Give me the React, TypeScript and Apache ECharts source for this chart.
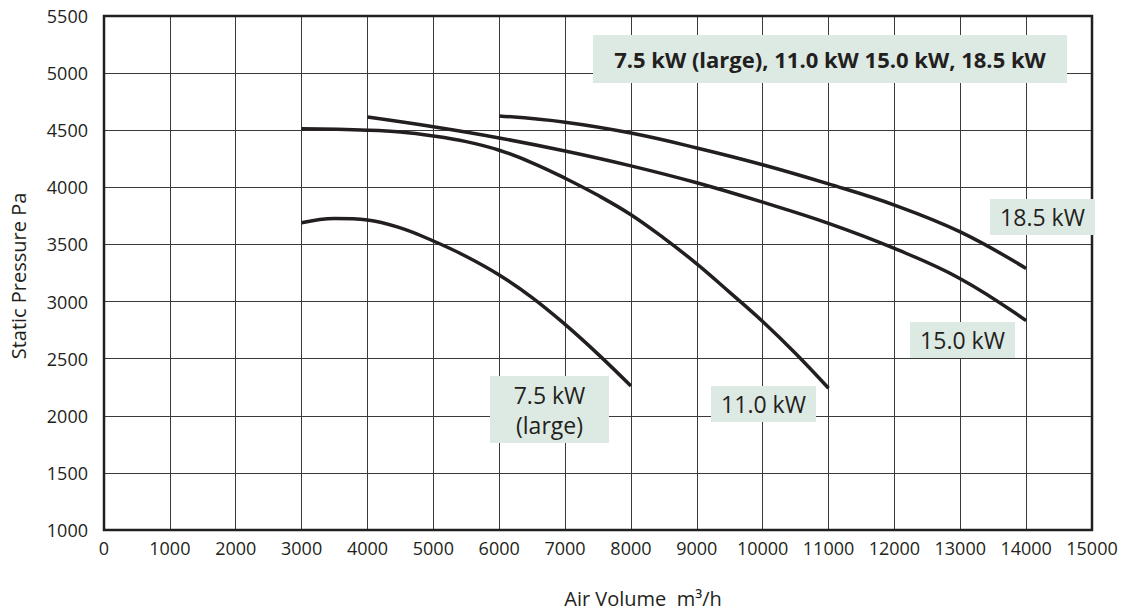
import React, { useEffect, useRef } from "react";
import * as echarts from "echarts";

const xTicks = [0, 1000, 2000, 3000, 4000, 5000, 6000, 7000, 8000, 9000, 10000, 11000, 12000, 13000, 14000, 15000];
const yTicks = [1000, 1500, 2000, 2500, 3000, 3500, 4000, 4500, 5000, 5500];

const curve75: [number, number][] = [
  [3000, 3690], [3500, 3728], [4000, 3715], [4500, 3645], [5000, 3530], [5500, 3395],
  [6000, 3233], [6500, 3035], [7000, 2800], [7500, 2540], [8000, 2261],
];
const curve110: [number, number][] = [
  [3000, 4512], [4000, 4500], [4500, 4485], [5000, 4450], [5500, 4400], [6000, 4325],
  [6500, 4215], [7000, 4080], [7500, 3930], [8000, 3760], [8500, 3555], [9000, 3330],
  [9500, 3080], [10000, 2825], [10500, 2545], [11000, 2241],
];
const curve150: [number, number][] = [
  [4000, 4615], [5000, 4530], [6000, 4432], [7000, 4318], [8000, 4188], [9000, 4040],
  [10000, 3870], [11000, 3685], [12000, 3465], [13000, 3200], [14000, 2833],
];
const curve185: [number, number][] = [
  [6000, 4625], [7000, 4570], [8000, 4475], [9000, 4345], [10000, 4198], [11000, 4030],
  [12000, 3845], [13000, 3610], [14000, 3290],
];

const seriesNames = ["7.5 kW (large)", "11.0 kW", "15.0 kW", "18.5 kW"];
const seriesData = [curve75, curve110, curve150, curve185];

const titleText = "7.5 kW (large), 11.0 kW 15.0 kW, 18.5 kW";
const xName = "Air Volume  m³/h";
const yName = "Static Pressure Pa";

const FONT = "'Open Sans', 'Noto Sans', sans-serif";
const INK = "#231f20";
const BOX = "#dde9e3";

function labelBox(x: number, y: number, w: number, h: number, text: string, size = 23, bold = false) {
  return {
    type: "group",
    z: 100,
    children: [
      { type: "rect", shape: { x, y, width: w, height: h }, style: { fill: BOX }, z: 100 },
      {
        type: "text",
        x: x + w / 2,
        y: y + h / 2,
        z: 101,
        style: {
          text,
          fill: INK,
          font: `${bold ? "bold " : ""}${size}px ${FONT}`,
          align: "center",
          verticalAlign: "middle",
          lineHeight: 30,
        },
      },
    ],
  };
}

export default function App() {
  const ref = useRef<HTMLDivElement>(null);
  useEffect(() => {
    if (!ref.current) return;
    const chart = echarts.init(ref.current, undefined, { renderer: "svg" });
    chart.setOption({
      animation: false,
      backgroundColor: "#ffffff",
      grid: {
        left: 104,
        top: 16,
        right: 34,
        bottom: 82,
        show: true,
        borderColor: INK,
        borderWidth: 2.5,
        backgroundColor: "transparent",
        z: 10,
      },
      xAxis: {
        type: "value",
        min: xTicks[0],
        max: xTicks[xTicks.length - 1],
        interval: 1000,
        axisLine: { show: false },
        axisTick: { show: false },
        splitLine: { show: true, lineStyle: { color: "#3a3a3a", width: 1 } },
        axisLabel: { color: INK, fontSize: 18, fontFamily: FONT, margin: 9, formatter: (v: number) => String(v) },
      },
      yAxis: {
        type: "value",
        min: yTicks[0],
        max: yTicks[yTicks.length - 1],
        interval: 500,
        axisLine: { show: false },
        axisTick: { show: false },
        splitLine: { show: true, lineStyle: { color: "#3a3a3a", width: 1 } },
        axisLabel: { color: INK, fontSize: 18, fontFamily: FONT, margin: 16, formatter: (v: number) => String(v) },
      },
      series: seriesData.map((d, i) => ({
        type: "line",
        name: seriesNames[i],
        data: d,
        smooth: 0.4,
        showSymbol: false,
        lineStyle: { color: INK, width: 3.5 },
        z: 20,
      })),
      graphic: [
        labelBox(593, 35, 474, 48, titleText, 22, true),
        labelBox(990, 199, 105, 36, "18.5 kW"),
        labelBox(910, 322, 105, 36, "15.0 kW"),
        labelBox(711, 386, 105, 36, "11.0 kW"),
        labelBox(490, 376, 119, 67, "7.5 kW\n(large)"),
        {
          type: "text",
          x: 643,
          y: 598,
          style: {
            text: xName,
            fill: INK,
            font: `20px ${FONT}`,
            align: "center",
            verticalAlign: "middle",
          },
        },
        {
          type: "text",
          x: 18,
          y: 276,
          rotation: Math.PI / 2,
          style: {
            text: yName,
            fill: INK,
            font: `20px ${FONT}`,
            align: "center",
            verticalAlign: "middle",
          },
        },
      ],
    });
    return () => chart.dispose();
  }, []);
  return (
    <div
      ref={ref}
      style={{ position: "absolute", left: 0, top: 0, width: 1126, height: 612 }}
    />
  );
}
